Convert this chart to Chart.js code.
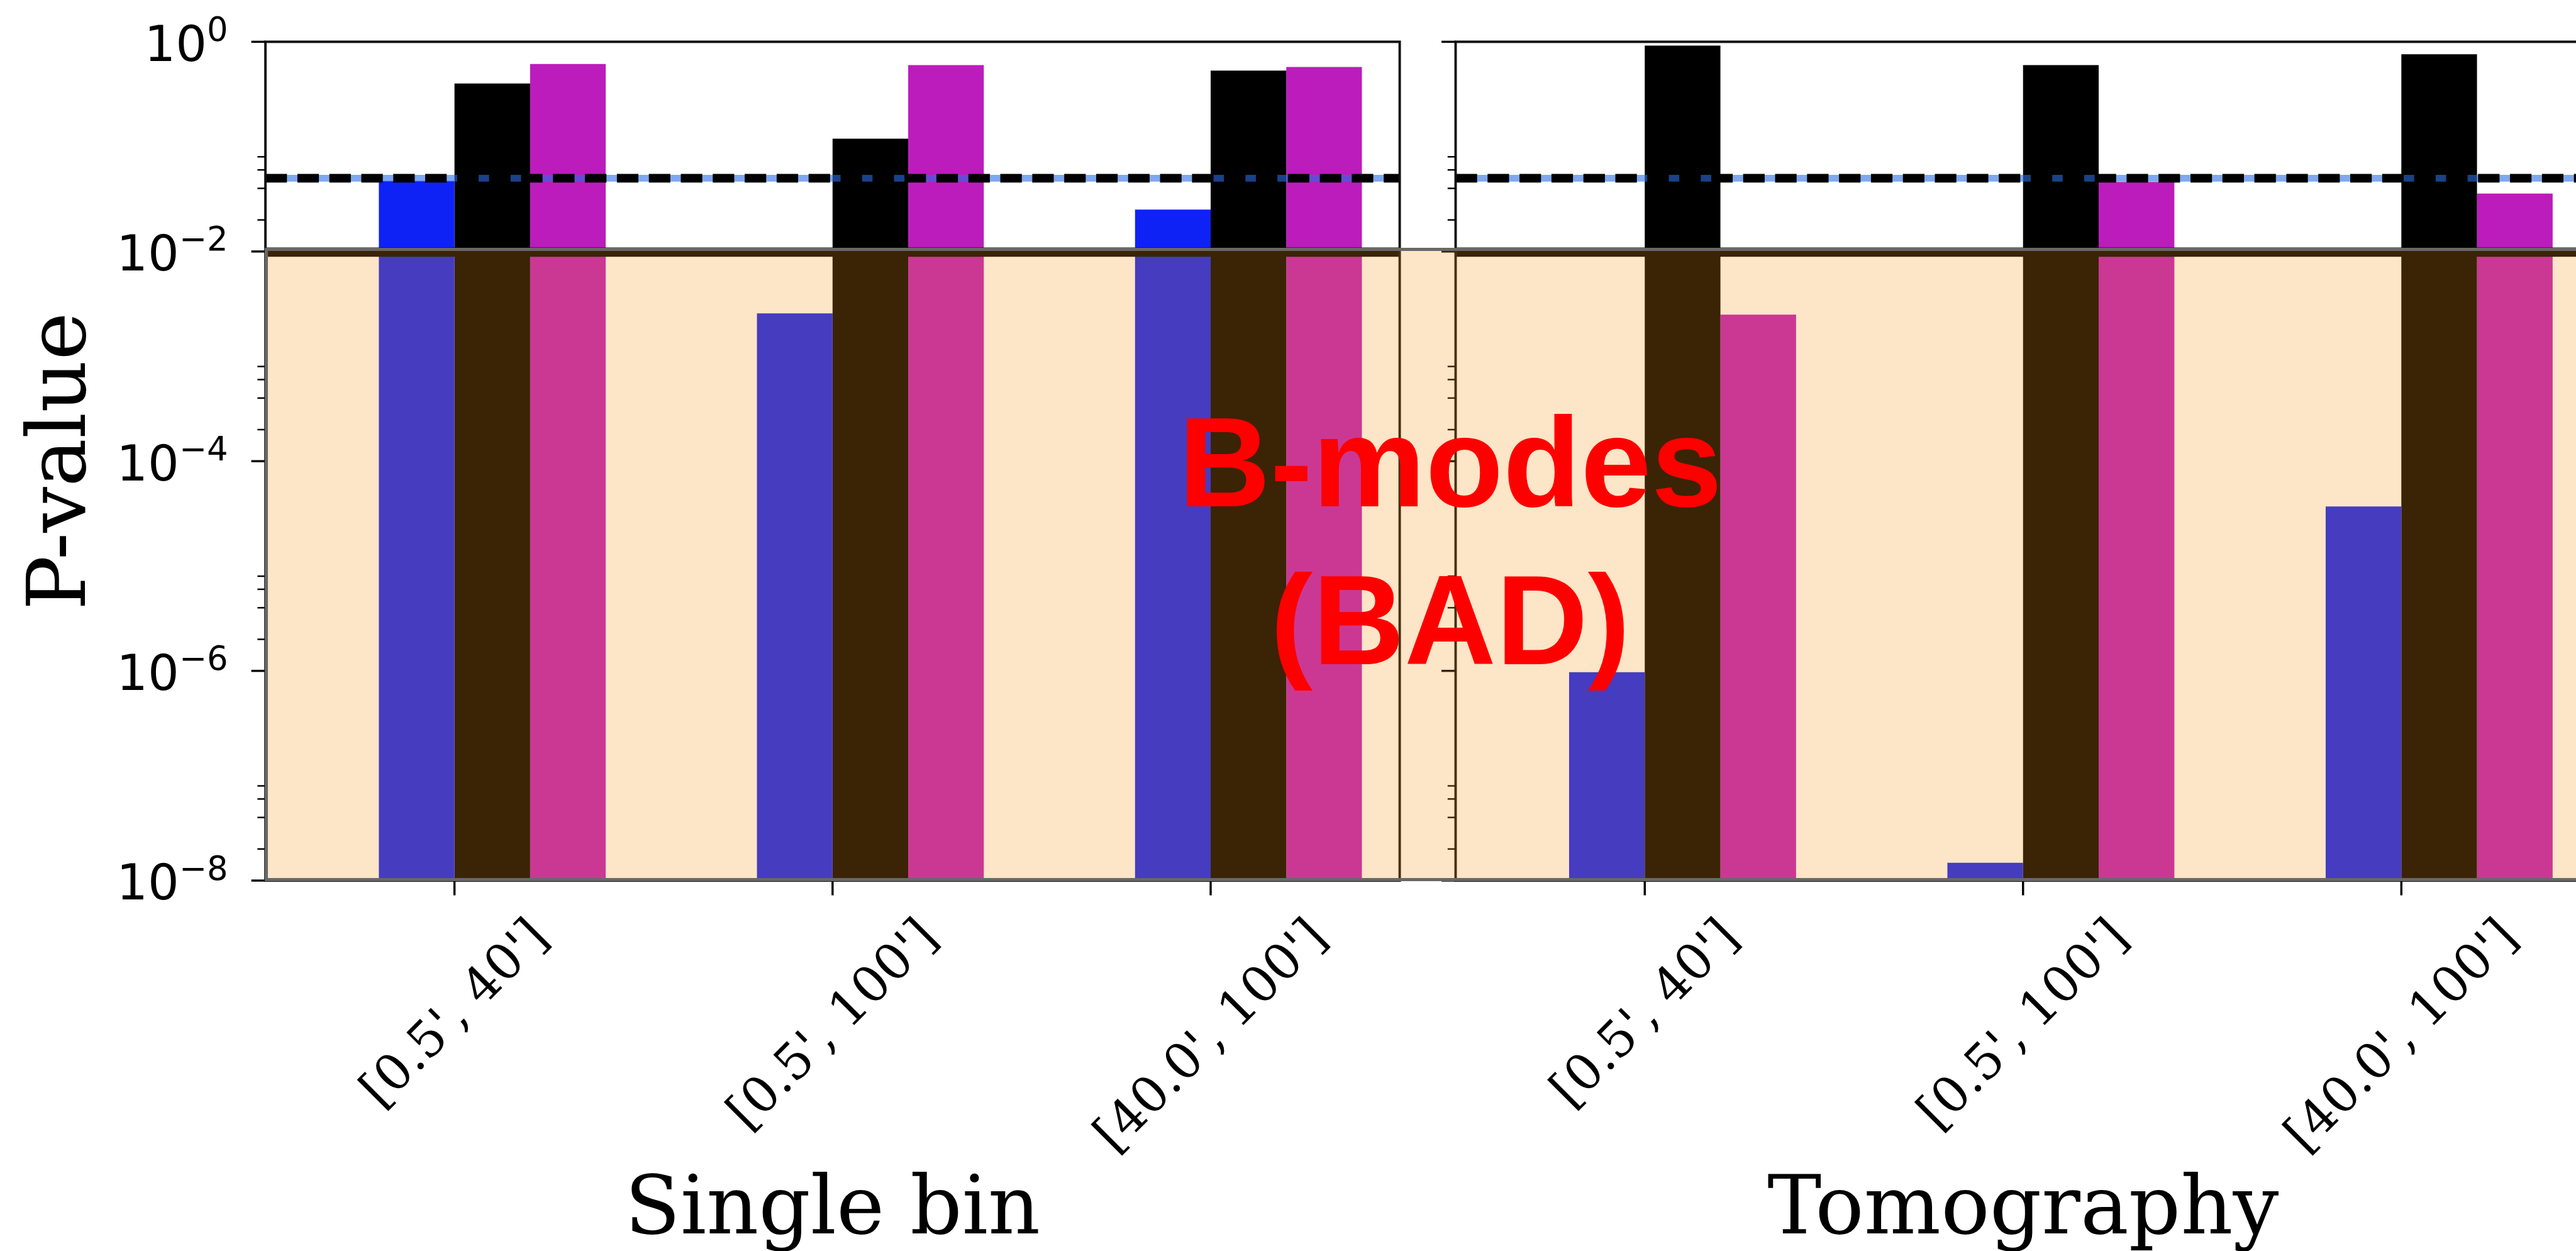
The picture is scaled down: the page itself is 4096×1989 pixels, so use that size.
<!DOCTYPE html>
<html>
<head>
<meta charset="utf-8">
<title>P-value</title>
<script src="https://cdn.jsdelivr.net/npm/chart.js@4.4.1/dist/chart.umd.min.js"></script>
<style>
  html, body { margin: 0; padding: 0; background: #fff; overflow: hidden; }
  body { width: 4096px; height: 1989px; position: relative; }
  canvas { position: absolute; top: 0; }
  #single { left: 0; }
  #tomo { left: 2270px; }
  #band {
    position: absolute;
    box-sizing: border-box;
    border: 5px solid #686868;
    border-right: none;
    background: rgba(246, 146, 21, 0.24);
  }
  #bad {
    position: absolute;
    left: 2306px;
    top: 610px;
    transform: translateX(-50%);
    color: #ff0000;
    font: bold 202px "Liberation Sans", Arial, sans-serif;
    line-height: 251px;
    text-align: center;
    white-space: nowrap;
  }
</style>
</head>
<body>
<canvas id="single" width="2270" height="1989"></canvas>
<canvas id="tomo" width="1900" height="1989"></canvas>
<div id="band"></div>
<div id="bad">B-modes<br>(BAD)</div>
<script>
const S = 0.977;

const categories = ["[0.5', 40']", "[0.5', 100']", "[40.0', 100']"];

const singleBlue = [0.047, 0.00257, 0.0251];
const singleBlack = [0.4, 0.119, 0.531];
const singleMagenta = [0.615, 0.599, 0.575];

const tomoBlue = [9.7e-7, 1.48e-8, 3.7e-5];
const tomoBlack = [0.92, 0.6, 0.76];
const tomoMagenta = [0.0025, 0.046, 0.0357];

const pThreshold = 0.05;
const badLevel = 0.01;
const yMin = 1e-8;
const yMax = 1;
const majorTicks = [1, 1e-2, 1e-4, 1e-6, 1e-8];
const majorExponents = ["0", "\u22122", "\u22124", "\u22126", "\u22128"];
const minorTicks = [
  2e-2, 4e-2, 6e-2, 8e-2,
  2e-4, 4e-4, 6e-4, 8e-4,
  2e-6, 4e-6, 6e-6, 8e-6,
  2e-8, 4e-8, 6e-8, 8e-8,
];
const yTitle = "P-value";

const BLUE = "#0e22f6";
const BLACK = "#000000";
const MAGENTA = "#bc1cbc";

// draws spines, ticks, threshold lines and all axis text
const decor = {
  id: "decor",
  afterDatasetsDraw(chart, args, opts) {
    const { ctx, chartArea: a, scales } = chart;
    const x = scales.x;
    const y = scales.y;
    ctx.save();

    // p = 0.05 line: light blue under black dashes
    const yP = y.getPixelForValue(pThreshold);
    ctx.beginPath();
    ctx.moveTo(a.left, yP);
    ctx.lineTo(a.right, yP);
    ctx.strokeStyle = "rgba(40, 110, 230, 0.6)";
    ctx.lineWidth = 11 * S;
    ctx.stroke();
    ctx.setLineDash([35 * S, 17 * S]);
    ctx.strokeStyle = BLACK;
    ctx.lineWidth = 14 * S;
    ctx.stroke();
    ctx.setLineDash([]);

    // thick line at 0.01
    const yB = y.getPixelForValue(badLevel) + 1;
    ctx.beginPath();
    ctx.moveTo(a.left, yB);
    ctx.lineTo(a.right, yB);
    ctx.lineWidth = 15 * S;
    ctx.strokeStyle = BLACK;
    ctx.stroke();

    // spines
    ctx.lineWidth = 4 * S;
    ctx.strokeStyle = "#111";
    ctx.strokeRect(a.left, a.top, a.right - a.left, a.bottom - a.top);

    // y ticks
    ctx.strokeStyle = BLACK;
    ctx.lineWidth = 3.5 * S;
    majorTicks.forEach((v) => {
      const py = y.getPixelForValue(v);
      ctx.beginPath();
      ctx.moveTo(a.left - 23 * S, py);
      ctx.lineTo(a.left, py);
      ctx.stroke();
    });
    ctx.lineWidth = 2.5 * S;
    minorTicks.forEach((v) => {
      const py = y.getPixelForValue(v);
      ctx.beginPath();
      ctx.moveTo(a.left - 13 * S, py);
      ctx.lineTo(a.left, py);
      ctx.stroke();
    });

    // x ticks and rotated labels, centred under each tick
    ctx.fillStyle = BLACK;
    ctx.font = `${81 * S}px "DejaVu Serif"`;
    ctx.textAlign = "left";
    ctx.textBaseline = "alphabetic";
    categories.forEach((label, i) => {
      const px = x.getPixelForTick(i);
      ctx.lineWidth = 3.5 * S;
      ctx.beginPath();
      ctx.moveTo(px, a.bottom);
      ctx.lineTo(px, a.bottom + 24 * S);
      ctx.stroke();

      const m = ctx.measureText(label);
      const w = m.actualBoundingBoxLeft + m.actualBoundingBoxRight;
      const h = m.actualBoundingBoxAscent + m.actualBoundingBoxDescent;
      const top = a.bottom + 56 * S;
      const cy = top + (w + h) / (2 * Math.SQRT2);
      ctx.save();
      ctx.translate(px, cy);
      ctx.rotate(-Math.PI / 4);
      ctx.fillText(
        label,
        -(m.actualBoundingBoxRight - m.actualBoundingBoxLeft) / 2,
        (m.actualBoundingBoxAscent - m.actualBoundingBoxDescent) / 2
      );
      ctx.restore();
    });

    // y tick labels as 10^n
    if (opts.yLabels) {
      const right = 371 * S;
      majorTicks.forEach((v, i) => {
        const py = y.getPixelForValue(v);
        ctx.font = `${54 * S}px "DejaVu Sans"`;
        const wSup = ctx.measureText(majorExponents[i]).width;
        ctx.fillText(majorExponents[i], right - wSup, py - 1.5 * S);
        ctx.font = `${80 * S}px "DejaVu Sans"`;
        const wBase = ctx.measureText("10").width;
        ctx.fillText("10", right - wSup - wBase, py + 31 * S);
      });

      ctx.font = `${132 * S}px "DejaVu Serif"`;
      ctx.textAlign = "center";
      ctx.save();
      ctx.translate(138 * S, (a.top + a.bottom) / 2);
      ctx.rotate(-Math.PI / 2);
      ctx.fillText(yTitle, 0, 0);
      ctx.restore();
    }

    ctx.font = `${132 * S}px "DejaVu Serif"`;
    ctx.textAlign = "center";
    ctx.fillText(opts.xTitle, (a.left + a.right) / 2, 2007 * S);

    ctx.restore();
  },
};

function makeChart(canvasId, blue, black, magenta, axisWidth, padRight, xTitle, yLabels) {
  const ctx = document.getElementById(canvasId).getContext("2d");
  return new Chart(ctx, {
    type: "bar",
    data: {
      labels: categories,
      datasets: [
        { data: [null, null, null], backgroundColor: "rgba(0,0,0,0)" },
        { data: blue, backgroundColor: BLUE },
        { data: black, backgroundColor: BLACK },
        { data: magenta, backgroundColor: MAGENTA },
      ],
    },
    options: {
      responsive: false,
      animation: false,
      devicePixelRatio: 1,
      layout: {
        autoPadding: false,
        padding: { left: 0, top: 68 * S, right: padRight, bottom: 0 },
      },
      datasets: {
        bar: { categoryPercentage: 0.8, barPercentage: 1.0, borderWidth: 0 },
      },
      plugins: {
        legend: { display: false },
        tooltip: { enabled: false },
        decor: { xTitle: xTitle, yLabels: yLabels },
      },
      scales: {
        x: {
          type: "category",
          offset: true,
          grid: { display: false },
          border: { display: false },
          ticks: { display: false },
          afterFit: (s) => {
            s.height = 1989 - 1433 * S;
          },
        },
        y: {
          type: "logarithmic",
          min: yMin,
          max: yMax,
          grid: { display: false },
          border: { display: false },
          ticks: { display: false },
          afterFit: (s) => {
            s.width = axisWidth;
          },
        },
      },
    },
    plugins: [decor],
  });
}

const singleChart = makeChart("single", singleBlue, singleBlack, singleMagenta,
  432 * S, 2270 - 2278 * S, "Single bin", true);
const tomoChart = makeChart("tomo", tomoBlue, tomoBlack, tomoMagenta,
  2369 * S - 2270, 1900 - (4216 * S - 2270), "Tomography", false);

// shaded "bad" band from 10^-2 down to the axis floor
const band = document.getElementById("band");
const area = singleChart.chartArea;
const yScale = singleChart.scales.y;
const bandTop = yScale.getPixelForValue(badLevel) - 6 * S;
const bandBottom = yScale.getPixelForValue(yMin) + 1;
band.style.left = area.left - 1 + "px";
band.style.top = bandTop + "px";
band.style.width = 4200 - area.left + "px";
band.style.height = bandBottom - bandTop + "px";
</script>
</body>
</html>
